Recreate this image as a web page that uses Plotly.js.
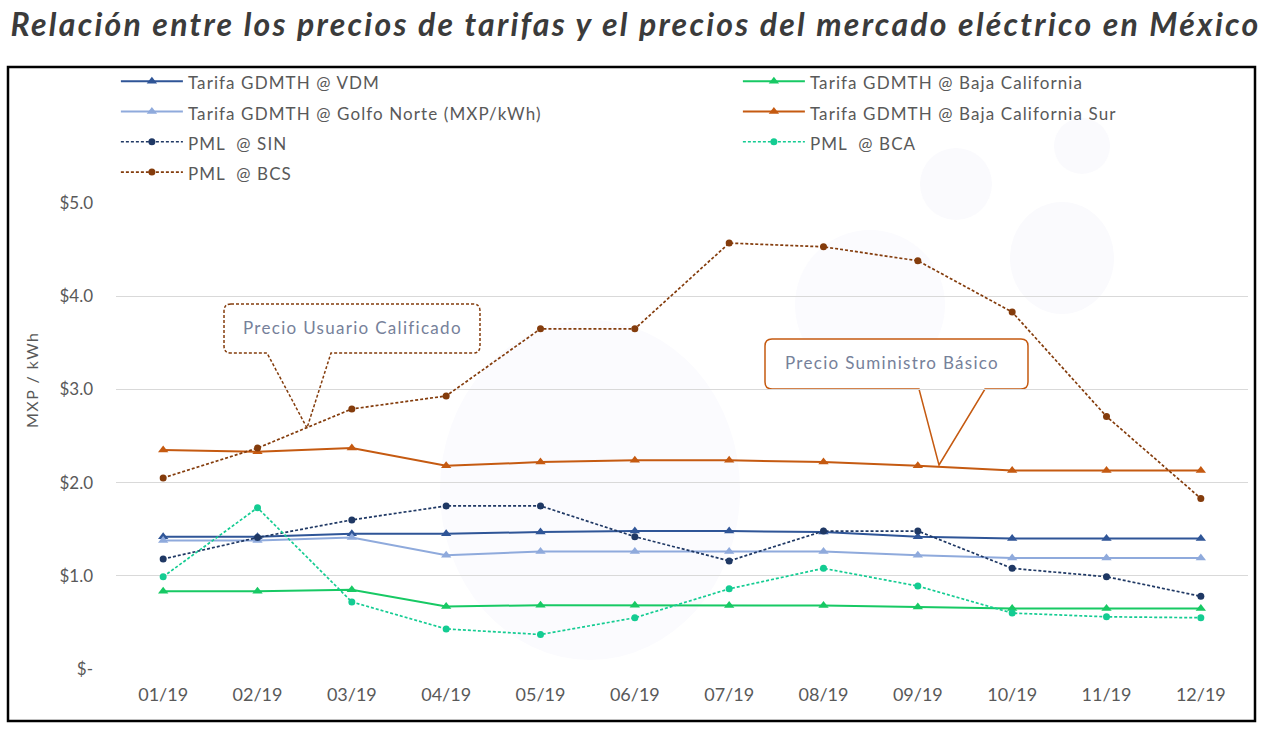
<!DOCTYPE html>
<html>
<head>
<meta charset="utf-8">
<script src="https://cdn.plot.ly/plotly-3.0.1.min.js"></script>
<style>html,body{margin:0;padding:0;background:#fff;}#chart{width:1271px;height:733px;}</style>
</head>
<body>
<div id="chart"></div>
<script>
// ---- data (MXP/kWh) ----
const months = ['01/19','02/19','03/19','04/19','05/19','06/19','07/19','08/19','09/19','10/19','11/19','12/19'];
const tarifaVDM = [1.42,1.42,1.45,1.45,1.47,1.48,1.48,1.47,1.42,1.40,1.40,1.40];
const tarifaBajaCalifornia = [0.835,0.835,0.85,0.67,0.685,0.685,0.68,0.68,0.665,0.65,0.65,0.65];
const tarifaGolfoNorte = [1.38,1.38,1.41,1.22,1.26,1.26,1.26,1.26,1.22,1.19,1.19,1.19];
const tarifaBajaCaliforniaSur = [2.35,2.33,2.37,2.18,2.22,2.24,2.24,2.22,2.18,2.13,2.13,2.13];
const pmlSIN = [1.18,1.41,1.60,1.75,1.75,1.42,1.16,1.48,1.48,1.08,0.99,0.78];
const pmlBCA = [0.99,1.73,0.72,0.43,0.37,0.55,0.86,1.08,0.89,0.60,0.56,0.55];
const pmlBCS = [2.05,2.37,2.79,2.93,3.65,3.65,4.57,4.53,4.38,3.83,2.71,1.83];

const seriesNames = ['Tarifa GDMTH @ VDM','Tarifa GDMTH @ Baja California','Tarifa GDMTH @ Golfo Norte (MXP/kWh)',
  'Tarifa GDMTH @ Baja California Sur','PML  @ SIN','PML  @ BCA','PML  @ BCS'];
const yTickVals = [0,1,2,3,4,5];
const yTickText = ['$-','$1.0','$2.0','$3.0','$4.0','$5.0'];
const titleText = 'Relación entre los precios de tarifas y el precios del mercado eléctrico en México';

// ---- layout geometry ----
const W = 1271, H = 733;
const M = {l:116, r:23, t:203, b:64};
const PW = W - M.l - M.r, PH = H - M.t - M.b;
const X = px => (px - M.l) / PW;
const Y = py => (H - M.b - py) / PH;
const FONT = 'Lato, "Open Sans", sans-serif';

function sp(t, size, spacing){
  return '<span style="font-size:' + size + 'px;letter-spacing:' + spacing + 'px">' + t + '</span>';
}

function tarifa(y, name, color){
  return {x: months, y: y, name: sp(name, 17, 1.1), type:'scatter', mode:'lines+markers',
    line:{color:color, width:2}, marker:{symbol:'triangle-up', size:9, color:color}};
}
function pml(y, name, color){
  return {x: months, y: y, name: sp(name, 17, 1.1), type:'scatter', mode:'lines+markers',
    line:{color:color, width:1.7, dash:'3px,2px'}, marker:{symbol:'circle', size:7, color:color}};
}

const traces = [
  tarifa(tarifaVDM, seriesNames[0], '#2f5597'),
  tarifa(tarifaBajaCalifornia, seriesNames[1], '#17c964'),
  tarifa(tarifaGolfoNorte, seriesNames[2], '#8faadc'),
  tarifa(tarifaBajaCaliforniaSur, seriesNames[3], '#c55a11'),
  pml(pmlSIN, seriesNames[4], '#1f3864'),
  pml(pmlBCA, seriesNames[5], '#14cc92'),
  pml(pmlBCS, seriesNames[6], '#843c0c')
];

function calloutPath(x0,y0,x1,y1,r,b0,b1,tx,ty){
  const P = (x,y) => X(x).toFixed(5)+','+Y(y).toFixed(5);
  return 'M'+P(x0+r,y0)+' L'+P(x1-r,y0)+' Q'+P(x1,y0)+' '+P(x1,y0+r)+
    ' L'+P(x1,y1-r)+' Q'+P(x1,y1)+' '+P(x1-r,y1)+
    ' L'+P(b1,y1)+' L'+P(tx,ty)+' L'+P(b0,y1)+
    ' L'+P(x0+r,y1)+' Q'+P(x0,y1)+' '+P(x0,y1-r)+
    ' L'+P(x0,y0+r)+' Q'+P(x0,y0)+' '+P(x0+r,y0)+' Z';
}
function circ(cx,cy,rx,ry,c){
  return {type:'circle', xref:'paper', yref:'paper', layer:'below',
    x0:X(cx-rx), x1:X(cx+rx), y0:Y(cy+ry), y1:Y(cy-ry),
    fillcolor:c || '#fafafd', line:{width:0}};
}

const shapes = [
  circ(590,490,150,170,'#fbfbfe'), circ(956,184,36,36), circ(1082,146,28,28),
  circ(1062,258,52,56), circ(870,305,75,75,'#fbfbfe'),
  {type:'path', xref:'paper', yref:'paper', layer:'between',
   path: calloutPath(224,304,480,353,7,267,331,307,428),
   fillcolor:'#ffffff', line:{color:'#843c0c', width:1.5, dash:'3px,2px'}},
  {type:'path', xref:'paper', yref:'paper', layer:'between',
   path: calloutPath(765,339,1028,389,7,919,985,939,465),
   fillcolor:'#ffffff', line:{color:'#c55a11', width:1.5}},
  {type:'rect', xref:'paper', yref:'paper', layer:'above',
   x0:X(8), x1:X(1255), y0:Y(721), y1:Y(67), line:{color:'#000', width:2.5}, fillcolor:'rgba(0,0,0,0)'}
];

const annotations = [
  {xref:'paper', yref:'paper', x:X(352), y:Y(327), xanchor:'center', yanchor:'middle',
   text:sp('Precio Usuario Calificado', 17, 1.3), showarrow:false,
   font:{family:FONT, size:17, color:'#76819a'}},
  {xref:'paper', yref:'paper', x:X(892), y:Y(362), xanchor:'center', yanchor:'middle',
   text:sp('Precio Suministro Básico', 17, 1.3), showarrow:false,
   font:{family:FONT, size:17, color:'#76819a'}},
  {xref:'paper', yref:'paper', x:X(31), y:Y(380), xanchor:'center', yanchor:'middle',
   text:sp('MXP / kWh', 16, 1.5), textangle:-90, showarrow:false,
   font:{family:FONT, size:16, color:'#595959'}}
];

const layout = {
  width: W, height: H,
  margin: {l:M.l, r:M.r, t:M.t, b:M.b, autoexpand:false},
  paper_bgcolor:'#ffffff', plot_bgcolor:'rgba(0,0,0,0)',
  font:{family:FONT, color:'#595959'},
  title:{text:'<b><i>' + sp(titleText, 32, 2.25) + '</i></b>',
    font:{family:FONT, size:32, color:'#3b3b3b'}, x:0.5, xref:'container', xanchor:'center',
    y:1-25/H, yref:'container', yanchor:'middle'},
  xaxis:{type:'category', range:[-0.5,11.5], showgrid:false, zeroline:false, showline:false,
    ticks:'', tickfont:{family:FONT, size:18, color:'#595959'}, ticklabelstandoff:13, fixedrange:true},
  yaxis:{range:[0,5], tickvals:yTickVals, ticktext:yTickText, showgrid:true, gridcolor:'#d9d9d9', gridwidth:1,
    zeroline:false, showline:false, ticks:'', tickfont:{family:FONT, size:17, color:'#595959'},
    ticklabelstandoff:22, fixedrange:true},
  showlegend:true,
  legend:{orientation:'h', x:-0.0001, xanchor:'left', y:Y(61), yanchor:'top',
    bgcolor:'rgba(0,0,0,0)', font:{family:FONT, size:21, color:'#595959'},
    itemwidth:62, entrywidth:545, entrywidthmode:'pixels', traceorder:'normal'},
  shapes: shapes,
  annotations: annotations
};

Plotly.newPlot('chart', traces, layout, {displayModeBar:false, staticPlot:true});
</script>
</body>
</html>
